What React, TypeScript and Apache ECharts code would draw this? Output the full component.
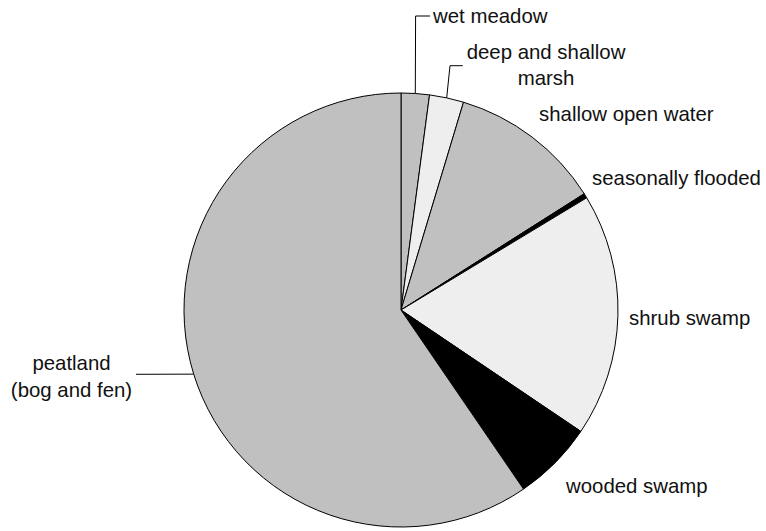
import React, { useEffect, useRef } from "react";
import * as echarts from "echarts";

const categories = [
  "wet meadow",
  "deep and shallow\nmarsh",
  "shallow open water",
  "seasonally flooded",
  "shrub swamp",
  "wooded swamp",
  "peatland\n(bog and fen)",
];
const shares = [2.1, 2.55, 11.35, 0.35, 18.1, 6.0, 59.55];
const fills = ["#c0c0c0", "#eeeeee", "#c0c0c0", "#000000", "#eeeeee", "#000000", "#c0c0c0"];

const CENTER: [number, number] = [401, 310];
const RADIUS = 217;

type Placement = { x: number; y: number; align: "left" | "center"; path?: number[][] };
const placements: Placement[] = [
  { x: 433, y: 16, align: "left", path: [[415.6, 16], [430, 16]] },
  { x: 546, y: 65, align: "center", path: [[450, 65.7], [462.7, 65.7]] },
  { x: 539, y: 114, align: "left" },
  { x: 592, y: 178, align: "left" },
  { x: 629, y: 318, align: "left" },
  { x: 566, y: 486, align: "left" },
  { x: 71.5, y: 376.5, align: "center", path: [[136, 374.3]] },
];

function edgePoint(i: number): number[] {
  const total = shares.reduce((a, b) => a + b, 0);
  let before = 0;
  for (let k = 0; k < i; k++) before += shares[k];
  const theta = ((before + shares[i] / 2) / total) * Math.PI * 2;
  return [CENTER[0] + RADIUS * Math.sin(theta), CENTER[1] - RADIUS * Math.cos(theta)];
}

export default function App() {
  const ref = useRef<HTMLDivElement>(null);
  useEffect(() => {
    if (!ref.current) return;
    const chart = echarts.init(ref.current, undefined, { renderer: "svg" });
    chart.setOption({
      animation: false,
      backgroundColor: "#ffffff",
      series: [
        {
          type: "pie",
          center: CENTER,
          radius: RADIUS,
          startAngle: 90,
          clockwise: true,
          avoidLabelOverlap: false,
          itemStyle: { borderColor: "#000", borderWidth: 1 },
          label: {
            show: true,
            position: "outside",
            formatter: "{b}",
            color: "#111",
            fontSize: 20.4,
            lineHeight: 26.5,
            fontFamily: "'Liberation Sans', Arial, sans-serif",
          },
          labelLine: { show: true, lineStyle: { color: "#000", width: 1 } },
          emphasis: { disabled: true },
          labelLayout: (params: any) => {
            const p = placements[params.dataIndex];
            const out: any = { x: p.x, y: p.y, align: p.align, verticalAlign: "middle" };
            if (p.path) out.labelLinePoints = [edgePoint(params.dataIndex), ...p.path];
            return out;
          },
          data: categories.map((name, i) => ({
            name,
            value: shares[i],
            itemStyle: { color: fills[i] },
            labelLine: { show: !!placements[i].path },
          })),
        },
      ],
    });
    return () => chart.dispose();
  }, []);
  return (
    <div
      ref={ref}
      style={{ position: "fixed", left: 0, top: 0, width: 766, height: 531 }}
    />
  );
}
